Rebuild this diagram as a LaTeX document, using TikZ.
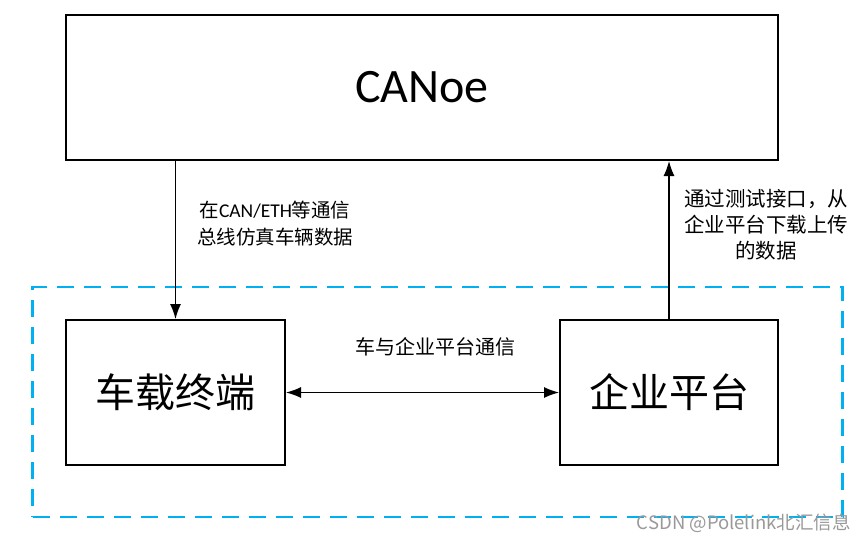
\documentclass[tikz,border=0pt]{standalone}
\usepackage{fontspec}
\setmainfont{Carlito}
\newfontfamily\cjk{Noto Sans CJK SC}
\usetikzlibrary{arrows.meta}
\definecolor{dashblue}{HTML}{00B0F0}
\tikzset{
  box/.style={draw=black, line width=2pt, fill=white, inner sep=0pt},
  conn/.style={draw=black, line width=1.3pt, -{Latex[length=15pt,width=11pt]}},
  lbl/.style={inner sep=0pt, align=center, font=\cjk\fontsize{19.5}{27}\selectfont},
}
\begin{document}
\begin{tikzpicture}[x=1pt,y=-1pt]
\useasboundingbox (0,0) rectangle (865,541);
\node[draw=dashblue, line width=2.5pt, dash pattern=on 17pt off 10pt, minimum width=810pt, minimum height=230pt, inner sep=0pt] (group) at (437.5,402) {};
\node[box, minimum width=712pt, minimum height=145pt, font=\fontsize{48}{48}\selectfont] (canoe) at (422,87.5) {CANoe};
\node[box, minimum width=219pt, minimum height=145pt, font=\cjk\fontsize{40}{40}\selectfont] (veh) at (175.5,392.5) {车载终端};
\node[box, minimum width=218pt, minimum height=145pt, font=\cjk\fontsize{40}{40}\selectfont] (plat) at (669,392.5) {企业平台};
\draw[conn] (canoe.south -| veh.north) -- (veh.north);
\draw[conn] (plat.north) -- (plat.north |- canoe.south);
\draw[conn, {Latex[length=15pt,width=11pt]}-{Latex[length=15pt,width=11pt]}] (veh.east) -- (plat.west);
\node[lbl] (l1) at (275,224) {在{\fontspec{Carlito}CAN/ETH}等通信\\总线仿真车辆数据};
\node[lbl, font=\cjk\fontsize{20.5}{26}\selectfont] (l2) at (766,225) {通过测试接口，从\\企业平台下载上传\\的数据};
\node[lbl, font=\cjk\fontsize{20}{20}\selectfont] (l3) at (435,347) {车与企业平台通信};
\node[inner sep=0pt, anchor=east, text=black!40, font=\cjk\fontsize{18.5}{18.5}\selectfont] (wm) at (851,523) {CSDN @Polelink北汇信息};
\end{tikzpicture}
\end{document}
